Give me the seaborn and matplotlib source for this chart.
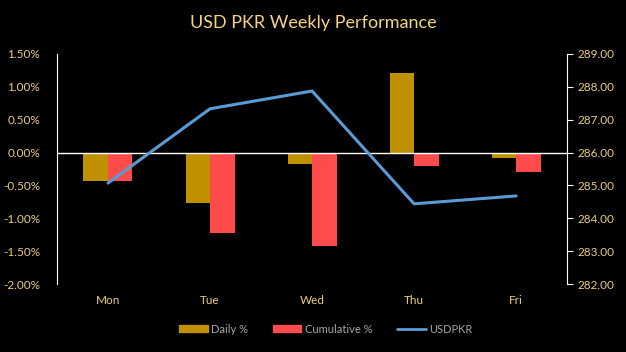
import pandas as pd
import seaborn as sns
import matplotlib.pyplot as plt
from matplotlib.patches import Patch
from matplotlib.lines import Line2D

# Weekly data
days = ['Mon', 'Tue', 'Wed', 'Thu', 'Fri']
daily_pct = [-0.43, -0.77, -0.18, 1.21, -0.08]
cumulative_pct = [-0.43, -1.22, -1.42, -0.21, -0.29]
usdpkr = [285.07, 287.33, 287.87, 284.44, 284.68]

gold = '#BF9000'
red = '#FF4B4B'
blue = '#5B9BD5'
label_col = '#EBCB7E'

sns.set_style('dark')
plt.rcParams['font.family'] = ['Lato', 'DejaVu Sans']

df = pd.DataFrame({
    'Day': days * 2,
    'Value': daily_pct + cumulative_pct,
    'Series': ['Daily %'] * 5 + ['Cumulative %'] * 5,
})

fig = plt.figure(figsize=(6.26, 3.52), dpi=100, facecolor='black')
ax = fig.add_axes([0.091, 0.193, 0.815, 0.654])
ax.set_facecolor('black')

sns.barplot(data=df, x='Day', y='Value', hue='Series', palette=[gold, red],
            width=0.48, gap=0, ax=ax, legend=False, saturation=1, linewidth=0)
ax.axhline(0, color='white', lw=1)
ax.set_ylim(-2.0, 1.5)
ax.set_yticks([-2.0, -1.5, -1.0, -0.5, 0.0, 0.5, 1.0, 1.5])
ax.set_yticklabels([f'{v:.2f}%' for v in ax.get_yticks()])
ax.set_xlim(-0.5, 4.5)
ax.set_xlabel('')
ax.set_ylabel('')
ax.grid(False)
for s in ['top', 'bottom', 'right']:
    ax.spines[s].set_visible(False)
ax.spines['left'].set_visible(True)
ax.spines['left'].set_color('white')
ax.tick_params(axis='y', length=0, colors=label_col, labelsize=8.5, pad=12)
ax.tick_params(axis='x', length=0, colors=label_col, labelsize=8.5, pad=8)

# USDPKR on the secondary axis
ax2 = ax.twinx()
sns.lineplot(x=days, y=usdpkr, sort=False, color=blue, lw=2.2, ax=ax2)
ax2.set_ylim(282, 289)
ax2.set_yticks(range(282, 290))
ax2.set_yticklabels([f'{v:.2f}' for v in range(282, 290)])
ax2.set_xlim(-0.5, 4.5)
ax2.grid(False)
for s in ['top', 'bottom', 'left']:
    ax2.spines[s].set_visible(False)
ax2.spines['right'].set_visible(True)
ax2.spines['right'].set_color('white')
ax2.tick_params(axis='y', length=4, colors=label_col, labelsize=8.5)
ax2.tick_params(axis='y', color='white')

fig.text(0.5, 0.935, 'USD PKR Weekly Performance', ha='center', va='center',
         color='#F5D37F', fontsize=13)

handles = [Patch(color=gold, label='Daily %'),
           Patch(color=red, label='Cumulative %'),
           Line2D([], [], color=blue, lw=2, label='USDPKR')]
leg = fig.legend(handles=handles, loc='center', bbox_to_anchor=(0.52, 0.065), ncol=3,
                 frameon=False, fontsize=8, handlelength=2.6, handleheight=0.6,
                 columnspacing=2.2, handletextpad=0.3)
for t in leg.get_texts():
    t.set_color('#A6A6A6')

fig.savefig('out.png', dpi=100, facecolor='black')
